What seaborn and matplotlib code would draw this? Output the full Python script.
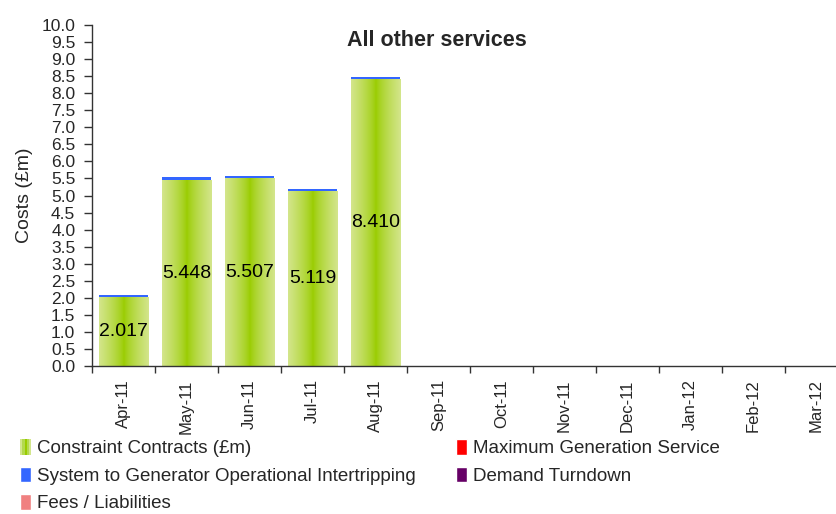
import numpy as np
import pandas as pd
import matplotlib
matplotlib.use("Agg")
import matplotlib.pyplot as plt
import seaborn as sns
from matplotlib.patches import Patch, Rectangle
from matplotlib.legend_handler import HandlerPatch

months = ["Apr-11", "May-11", "Jun-11", "Jul-11", "Aug-11", "Sep-11",
          "Oct-11", "Nov-11", "Dec-11", "Jan-12", "Feb-12", "Mar-12"]
constraint = [2.017, 5.448, 5.507, 5.119, 8.410, 0, 0, 0, 0, 0, 0, 0]
intertrip = [0.06, 0.08, 0.06, 0.06, 0.06, 0, 0, 0, 0, 0, 0, 0]
max_gen = [0] * 12
demand_turndown = [0] * 12
fees = [0] * 12
series_names = ["Constraint Contracts (£m)", "Maximum Generation Service",
                "System to Generator Operational Intertripping", "Demand Turndown",
                "Fees / Liabilities"]
title = "All other services"
ylabel = "Costs (£m)"

sns.set_theme(style="white")
plt.rcParams["font.family"] = ["Liberation Sans", "DejaVu Sans"]

df = pd.DataFrame({"month": months, "constraint": constraint,
                   "intertrip": intertrip, "maxgen": max_gen,
                   "turndown": demand_turndown, "fees": fees})
df["total"] = df[["constraint", "intertrip", "maxgen", "turndown", "fees"]].sum(axis=1)

fig = plt.figure(figsize=(8.37, 5.14), dpi=100)
ax = fig.add_axes([92 / 837, 148 / 514, 756 / 837, 341 / 514])

BLUE = "#3366ff"
sns.barplot(data=df, x="month", y="total", color=BLUE, saturation=1,
            width=0.78, ax=ax, linewidth=0)
n_before = len(ax.patches)
sns.barplot(data=df, x="month", y="constraint", color="#99cc00", saturation=1,
            width=0.78, ax=ax, linewidth=0)
green_patches = ax.patches[n_before:]

# horizontal gradient: light edges, strong green centre
light = np.array([0.83, 0.90, 0.55])
dark = np.array([0.60, 0.80, 0.0])
t = np.linspace(-1, 1, 256)
w = np.abs(t) ** 0.75
grad = (1 - w)[:, None] * dark + w[:, None] * light
grad_img = grad[None, :, :]

for p, v in zip(green_patches, constraint):
    x0 = p.get_x()
    wd = p.get_width()
    h = p.get_height()
    if h > 0:
        im = ax.imshow(grad_img, extent=[x0, x0 + wd, 0, h], aspect="auto",
                       zorder=p.get_zorder() + 0.1, interpolation="bilinear")
        im.set_clip_path(p)
        ax.text(x0 + wd / 2, h / 2, f"{v:.3f}", ha="center", va="center",
                fontsize=14, color="black", zorder=5)

ax.set_xlim(-0.5, len(months) - 0.5)
ax.set_ylim(0, 10)
ax.set_yticks(np.arange(0, 10.01, 0.5))
ax.set_yticklabels([f"{v:.1f}" for v in np.arange(0, 10.01, 0.5)], fontsize=12.5)
ax.set_xticks(range(len(months)))
ax.set_xticklabels(months, rotation=90, fontsize=12)
ax.set_xticks(np.arange(-0.5, len(months), 1), minor=True)
ax.tick_params(axis="x", which="major", length=0, pad=9.5)
ax.tick_params(axis="x", which="minor", length=5, width=1, color="#333333", direction="out", bottom=True)
ax.tick_params(axis="y", length=6, width=1, color="#333333", direction="out", left=True, pad=6)
ax.set_xlabel("")
ax.set_ylabel(ylabel, fontsize=14, labelpad=6)
for s in ["top", "right"]:
    ax.spines[s].set_visible(False)
for s in ["left", "bottom"]:
    ax.spines[s].set_color("#333333")
    ax.spines[s].set_linewidth(1)

ax.text(0.456, 0.955, title, transform=ax.transAxes, ha="center", va="center",
        fontsize=15.5, fontweight="bold")


class GradHandler(HandlerPatch):
    def create_artists(self, legend, orig_handle, xdescent, ydescent, width,
                       height, fontsize, trans):
        arts = []
        cols = ["#d2e68c", "#b3d94d", "#99cc00", "#b3d94d", "#d2e68c"]
        n = len(cols)
        for i in range(n):
            r = Rectangle((-xdescent + i * width / n, -ydescent), width / n, height,
                          facecolor=cols[i], edgecolor="none", transform=trans)
            arts.append(r)
        return arts


handles = [Patch(facecolor="#99cc00", label=series_names[0]),
           Patch(facecolor=BLUE, label=series_names[2]),
           Patch(facecolor="#f08080", label=series_names[4]),
           Patch(facecolor="#ff0000", label=series_names[1]),
           Patch(facecolor="#660066", label=series_names[3])]
leg = fig.legend(handles=handles, labels=[h.get_label() for h in handles],
                 loc="upper left", bbox_to_anchor=(20 / 837, 1 - 439 / 514),
                 ncol=2, frameon=False, fontsize=13.5, handlelength=0.6,
                 handleheight=0.9, handletextpad=0.3, columnspacing=2.15,
                 labelspacing=0.5, borderaxespad=0, borderpad=0,
                 handler_map={handles[0]: GradHandler()})

fig.savefig("out.png", dpi=100)
